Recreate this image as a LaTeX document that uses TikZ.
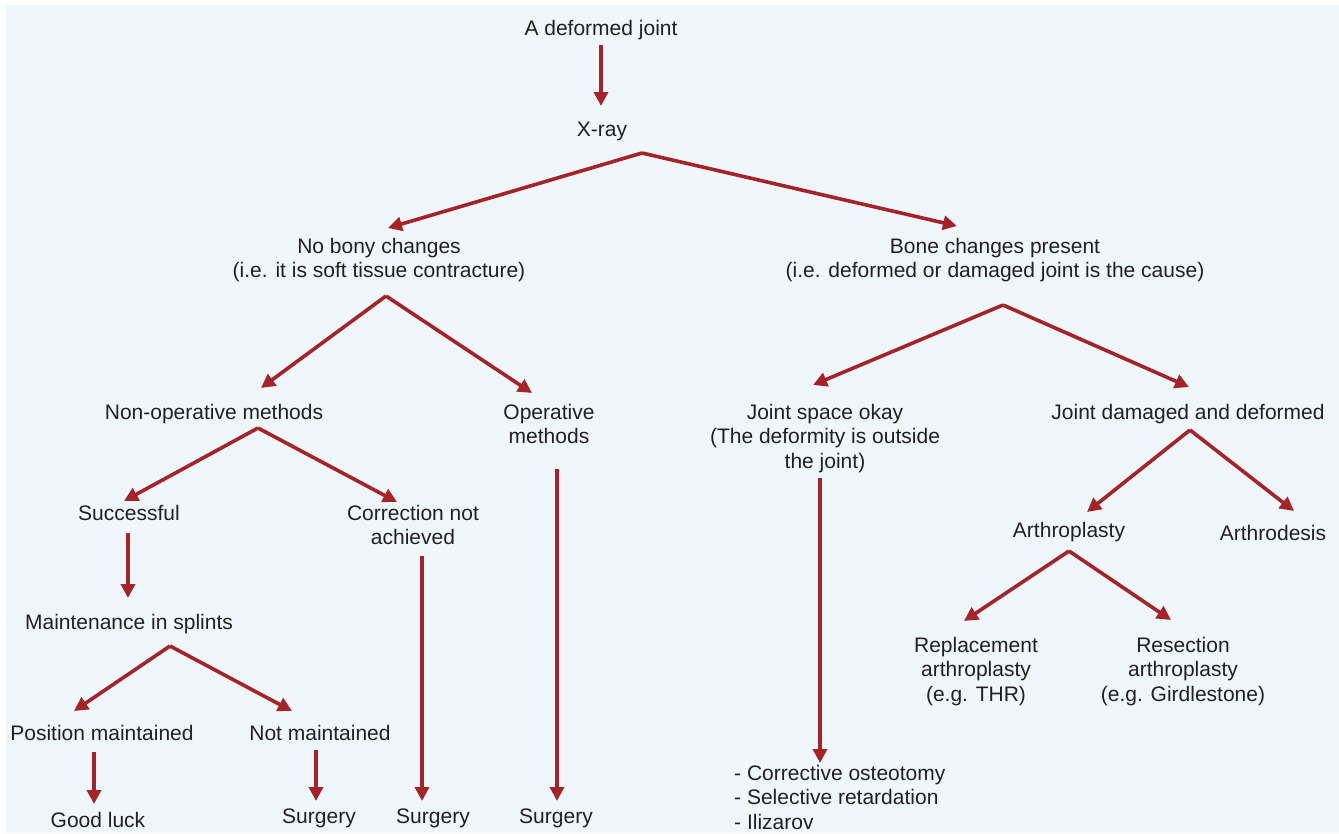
\documentclass[tikz,border=0pt]{standalone}
\usepackage{fontspec}
\setmainfont{Liberation Sans}
\usetikzlibrary{arrows.meta}
\definecolor{bgblue}{RGB}{239,247,252}
\definecolor{arrowred}{RGB}{166,35,40}
\definecolor{txt}{RGB}{35,31,32}
\begin{document}
\begin{tikzpicture}[x=1pt,y=-1pt,
  lbl/.style={anchor=north,inner sep=0pt,align=center,text=txt,font=\fontsize{21}{24.5}\selectfont},
  arr/.style={draw=arrowred,line width=3.6pt,-{Triangle[length=14pt,width=14pt]}}]
\useasboundingbox (0,0) rectangle (1339,833);
\fill[bgblue] (6,5) rectangle (1339,833);
% nodes
\node[lbl] (a) at (601,20) {A deformed joint};
\node[lbl] (b) at (602,122) {X-ray};
\node[lbl] (c) at (379,238) {No bony changes\\(i.e. it is soft tissue contracture)};
\node[lbl] (d) at (995,238) {Bone changes present\\(i.e. deformed or damaged joint is the cause)};
\node[lbl] (e) at (214,404) {Non-operative methods};
\node[lbl] (f) at (549,404) {Operative\\methods};
\node[lbl] (g) at (825,404) {Joint space okay\\(The deformity is outside\\the joint)};
\node[lbl] (h) at (1188,404) {Joint damaged and deformed};
\node[lbl] (i) at (129,505) {Successful};
\node[lbl] (j) at (413,505) {Correction not\\achieved};
\node[lbl] (k) at (1069,522) {Arthroplasty};
\node[lbl] (l) at (1273,525) {Arthrodesis};
\node[lbl] (m) at (129,614) {Maintenance in splints};
\node[lbl] (n) at (976,637) {Replacement\\arthroplasty\\(e.g. THR)};
\node[lbl] (o) at (1183,637) {Resection\\arthroplasty\\(e.g. Girdlestone)};
\node[lbl] (p) at (102,725) {Position maintained};
\node[lbl] (q) at (320,725) {Not maintained};
\node[lbl] (r) at (98,812) {Good luck};
\node[lbl] (s) at (319,809) {Surgery};
\node[lbl] (t) at (433,809) {Surgery};
\node[lbl] (u) at (556,809) {Surgery};
\node[lbl,anchor=north west,align=left] (v) at (734,765) {- Corrective osteotomy\\- Selective retardation\\- Ilizarov};
% connector ends
\coordinate (a-s) at (601,45);  \coordinate (b-n) at (601,106);
\coordinate (b-s) at (642,153); \coordinate (c-n) at (388,228); \coordinate (d-n) at (957,226);
\coordinate (c-s) at (386,296); \coordinate (e-n) at (261,388); \coordinate (f-n) at (532,393);
\coordinate (d-s) at (1003,305); \coordinate (g-n) at (813,385); \coordinate (h-n) at (1189,387);
\coordinate (e-s) at (258,428); \coordinate (i-n) at (124,501); \coordinate (j-n) at (397,502);
\coordinate (h-s) at (1190,430); \coordinate (k-n) at (1087,512); \coordinate (l-n) at (1294,511);
\coordinate (i-s) at (128,533); \coordinate (m-n) at (128,598);
\coordinate (k-s) at (1069,551); \coordinate (n-n) at (964,621); \coordinate (o-n) at (1171,620);
\coordinate (m-s) at (170,646); \coordinate (p-n) at (74,711); \coordinate (q-n) at (292,711);
\coordinate (p-s) at (94,752); \coordinate (r-n) at (94,804);
\coordinate (q-s) at (316,750); \coordinate (s-n) at (316,801);
\coordinate (j-s) at (422,556); \coordinate (t-n) at (422,801);
\coordinate (f-s) at (557,469); \coordinate (u-n) at (557,801);
\coordinate (g-s) at (820,478); \coordinate (v-n) at (820,763);
% connectors
\draw[arr] (a-s) -- (b-n);
\draw[arr] (b-s) -- (c-n);
\draw[arr] (b-s) -- (d-n);
\draw[arr] (c-s) -- (e-n);
\draw[arr] (c-s) -- (f-n);
\draw[arr] (d-s) -- (g-n);
\draw[arr] (d-s) -- (h-n);
\draw[arr] (e-s) -- (i-n);
\draw[arr] (e-s) -- (j-n);
\draw[arr] (h-s) -- (k-n);
\draw[arr] (h-s) -- (l-n);
\draw[arr] (i-s) -- (m-n);
\draw[arr] (k-s) -- (n-n);
\draw[arr] (k-s) -- (o-n);
\draw[arr] (m-s) -- (p-n);
\draw[arr] (m-s) -- (q-n);
\draw[arr] (p-s) -- (r-n);
\draw[arr] (q-s) -- (s-n);
\draw[arr] (j-s) -- (t-n);
\draw[arr] (f-s) -- (u-n);
\draw[arr] (g-s) -- (v-n);
\end{tikzpicture}
\end{document}
